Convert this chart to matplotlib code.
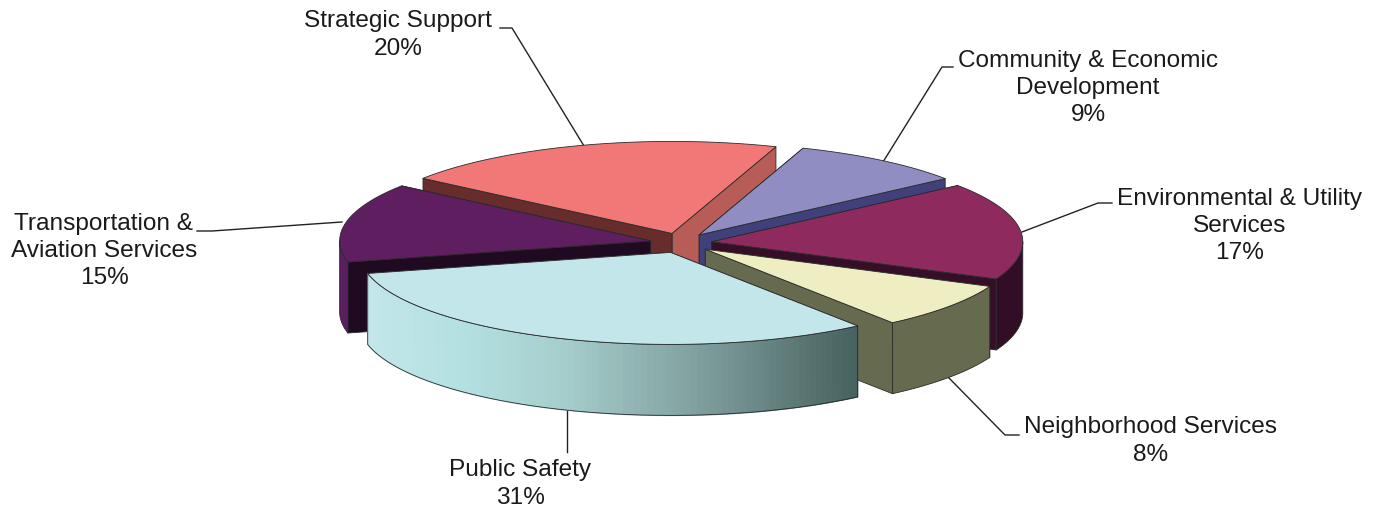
import numpy as np
import matplotlib
matplotlib.use("Agg")
import matplotlib.pyplot as plt
from matplotlib.colors import LinearSegmentedColormap

plt.rcParams['font.family'] = ['Liberation Sans', 'DejaVu Sans']

# clockwise on screen, starting from Public Safety
categories = ["Public Safety", "Transportation &\nAviation Services", "Strategic Support",
              "Community & Economic\nDevelopment", "Environmental & Utility\nServices",
              "Neighborhood Services"]
labels_pct = ["31%", "15%", "20%", "9%", "17%", "8%"]
# slice sizes as drawn, the 3D view bends them a bit away from the printed numbers
shares = [31.6, 13.9, 20.2, 9.1, 17.1, 8.1]

top_colors = ["#c3e6ea", "#5e1e60", "#f27878", "#8f8dc2", "#8e2a5e", "#eeeec2"]
side_colors = ["#c3e6ea", "#5a1f5f", "#672c2c", "#40407a", "#320d26", "#666a4e"]
wall_start_colors = ["#666a4e", "#200a22", "#672c2c", "#40407a", "#350e28", "#666a4e"]
wall_end_colors = ["#666a4e", "#200a22", "#b85c58", "#40407a", "#350e28", "#666a4e"]

label_pos = [(520, 484), (104, 251), (398, 35), (1088, 88), (1240, 226), (1151, 441)]
leaders = [
    [(567, 452), (567, 408)],
    [(197, 231), (212, 231), (342, 222)],
    [(500, 28), (512, 28), (584, 146)],
    [(953, 67), (942, 67), (883, 162)],
    [(1112, 203), (1098, 203), (1022, 232)],
    [(1019, 435), (1005, 435), (948, 377)],
]

CX, CY = 681, 243
RX, RY = 311, 92
EX, EY = 31, 10
DEPTH = 71
START = 53
EDGE = "#2a2a2a"

safety_grad = LinearSegmentedColormap.from_list(
    "safety", [(0, "#c3e6ea"), (0.2, "#b3e0e1"), (0.4, "#a6cecc"), (0.65, "#84a5a4"), (1, "#47625f")])

fig = plt.figure(figsize=(13.8, 5.12), dpi=100)
ax = fig.add_axes([0, 0, 1, 1])
ax.set_xlim(0, 1380)
ax.set_ylim(512, 0)
ax.axis("off")

for pts in leaders:
    xs, ys = zip(*pts)
    ax.plot(xs, ys, color="#222222", lw=1.0, zorder=1)

for name, pct, (x, y) in zip(categories, labels_pct, label_pos):
    ax.text(x, y, name + "\n" + pct, ha="center", va="center", fontsize=17.6,
            linespacing=1.31, color="#1a1a1a", zorder=1)

spans = np.array(shares) / sum(shares) * 360
starts = START + np.concatenate([[0], np.cumsum(spans)[:-1]])


def rim(ox, oy, t):
    t = np.radians(t)
    return ox + RX * np.cos(t), oy + RY * np.sin(t)


z = 2


def poly(xs, ys, fc, ec=EDGE, lw=0.6):
    global z
    z += 0.01
    ax.fill(xs, ys, facecolor=fc, edgecolor=ec, linewidth=lw, joinstyle="round", zorder=z)


# back to front
for i in [2, 3, 1, 4, 5, 0]:
    t0, t1 = starts[i], starts[i] + spans[i]
    mid = np.radians((t0 + t1) / 2)
    ox, oy = CX + EX * np.cos(mid), CY + EY * np.sin(mid)

    # cut faces, the farther one first
    faces = [(t0, wall_start_colors[i]), (t1, wall_end_colors[i])]
    faces.sort(key=lambda f: rim(ox, oy, f[0])[1])
    for t, col in faces:
        rx, ry = rim(ox, oy, t)
        poly([ox, rx, rx, ox], [oy, ry, ry + DEPTH, oy + DEPTH], col)

    # outer side, only the part facing the viewer
    for lo in (0, 360):
        a, b = max(t0, lo), min(t1, lo + 180)
        if b <= a:
            continue
        ts = np.linspace(a, b, 100)
        xs, ys = rim(ox, oy, ts)
        if i == 0:
            # Public Safety has a light to dark sweep across its side
            for k in range(len(ts) - 1):
                frac = (xs[0] - xs[k]) / (xs[0] - xs[-1])
                c = safety_grad(1 - frac)
                ax.fill([xs[k], xs[k + 1], xs[k + 1], xs[k]],
                        [ys[k], ys[k + 1], ys[k + 1] + DEPTH, ys[k] + DEPTH],
                        facecolor=c, edgecolor=c, linewidth=1.0, zorder=z)
            z += 0.01
            ax.plot(np.r_[xs, xs[::-1], xs[0]], np.r_[ys, ys[::-1] + DEPTH, ys[0]],
                    color=EDGE, lw=0.6, zorder=z)
        else:
            poly(np.r_[xs, xs[::-1]], np.r_[ys, ys[::-1] + DEPTH], side_colors[i])

    # top
    ts = np.linspace(t0, t1, 100)
    xs, ys = rim(ox, oy, ts)
    poly(np.r_[ox, xs], np.r_[oy, ys], top_colors[i])

fig.savefig("out.png", dpi=100)
